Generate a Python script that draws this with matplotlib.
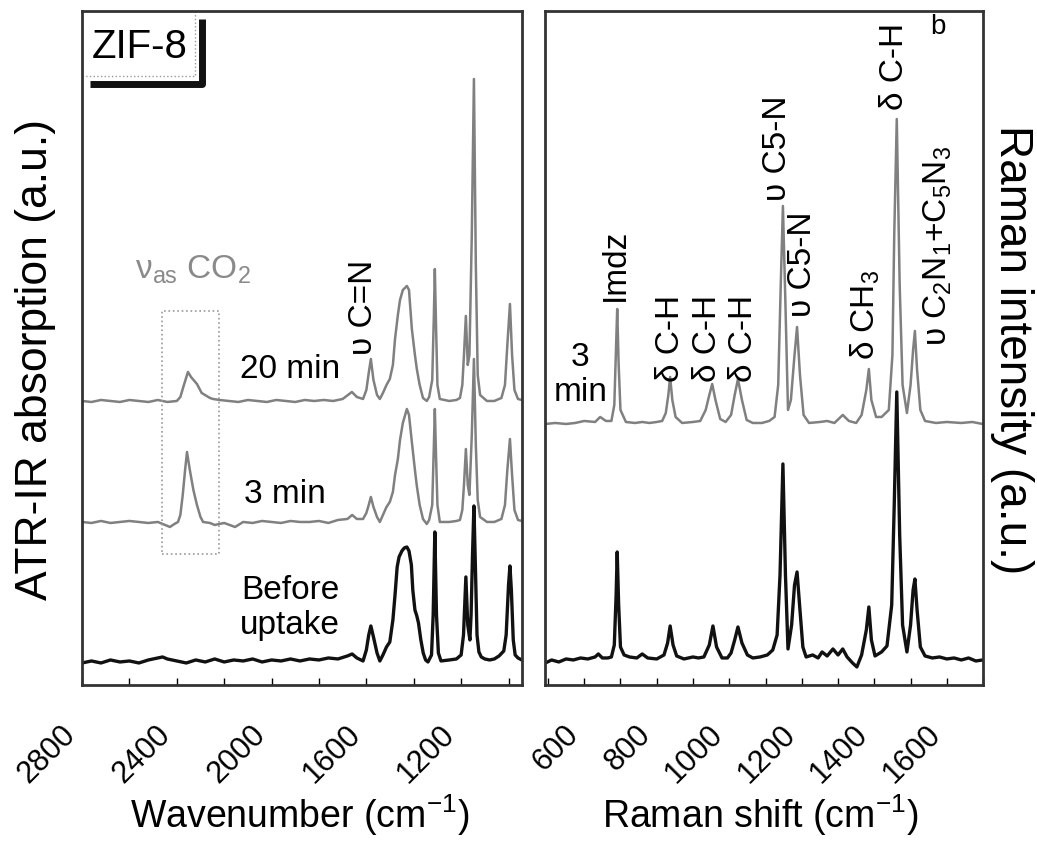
import matplotlib
matplotlib.use("Agg")
import matplotlib.pyplot as plt
from matplotlib.ticker import MultipleLocator, FixedLocator

plt.rcParams['font.family'] = ['Liberation Sans', 'DejaVu Sans']
plt.rcParams['mathtext.fontset'] = 'custom'
plt.rcParams['mathtext.rm'] = 'Liberation Sans'
plt.rcParams['mathtext.it'] = 'Liberation Sans:italic'

# ---- ATR-IR (left), wavenumber in cm-1, intensity in a.u. ----
ir_before_x = [2800, 2760, 2720, 2680, 2640, 2600, 2560, 2520, 2480, 2460, 2440, 2400, 2360, 2320,
               2280, 2240, 2200, 2160, 2120, 2080, 2040, 2000, 1960, 1920, 1880, 1840, 1800, 1760,
               1720, 1680, 1660, 1640, 1614, 1600, 1590, 1581, 1570, 1555, 1543, 1530, 1515, 1501,
               1488, 1479, 1470, 1462, 1450, 1440, 1429, 1420, 1410, 1404, 1395, 1387, 1380, 1370,
               1360, 1350, 1340, 1325, 1318, 1311, 1304, 1296, 1285, 1250, 1220, 1200, 1190, 1180,
               1172, 1163, 1158, 1152, 1146, 1140, 1133, 1125, 1115, 1100, 1080, 1060, 1040, 1020,
               1010, 1000, 994, 988, 980, 972, 960, 944]
ir_before_y = [22, 24, 22, 25, 23, 24, 22, 25, 27, 28, 26, 24, 22, 25,
               23, 26, 23, 25, 24, 26, 23, 25, 24, 26, 24, 26, 25, 27,
               26, 29, 31, 27, 24, 35, 50, 59, 48, 32, 24, 30, 38, 43,
               65, 90, 118, 128, 134, 137, 138, 134, 120, 95, 75, 69, 62, 45,
               32, 25, 23, 30, 70, 153, 70, 32, 24, 25, 26, 30, 50, 108,
               60, 45, 70, 130, 179, 120, 50, 33, 28, 26, 25, 26, 29, 34,
               50, 100, 119, 95, 45, 30, 27, 25]

ir_3min_x = [2800, 2760, 2720, 2680, 2640, 2600, 2560, 2520, 2480, 2429, 2410, 2395, 2385, 2375,
             2365, 2357, 2345, 2330, 2315, 2300, 2289, 2260, 2240, 2200, 2154, 2120, 2080, 2040,
             2000, 1960, 1920, 1880, 1840, 1800, 1760, 1720, 1680, 1660, 1640, 1614, 1600, 1590,
             1581, 1570, 1555, 1543, 1530, 1515, 1501, 1488, 1479, 1467, 1458, 1446, 1429, 1420,
             1408, 1395, 1387, 1375, 1361, 1345, 1335, 1322, 1315, 1311, 1306, 1300, 1290, 1250,
             1220, 1205, 1195, 1188, 1180, 1172, 1165, 1155, 1146, 1138, 1130, 1120, 1091, 1060,
             1030, 1015, 1005, 994, 985, 975, 960, 944]
ir_3min_y = [163, 162, 164, 162, 163, 164, 163, 162, 163, 158, 161, 163, 170, 190,
             215, 233, 215, 195, 180, 168, 163, 162, 160, 162, 158, 163, 162, 164,
             163, 162, 164, 163, 163, 164, 162, 165, 166, 170, 166, 166, 172, 180,
             188, 178, 168, 163, 170, 178, 183, 193, 210, 226, 245, 262, 276, 270,
             243, 215, 199, 180, 166, 161, 165, 180, 240, 276, 230, 180, 163, 163,
             164, 165, 175, 200, 236, 200, 190, 250, 326, 240, 185, 168, 163, 163,
             166, 180, 215, 246, 210, 175, 165, 164]

ir_20min_x = [2800, 2760, 2720, 2680, 2640, 2600, 2560, 2520, 2480, 2440, 2400, 2385, 2370, 2353,
              2340, 2315, 2295, 2281, 2260, 2247, 2220, 2180, 2140, 2100, 2060, 2020, 1980, 1940,
              1900, 1860, 1820, 1780, 1740, 1700, 1661, 1640, 1614, 1600, 1590, 1581, 1570, 1555,
              1543, 1530, 1515, 1501, 1488, 1479, 1467, 1458, 1446, 1429, 1420, 1408, 1395, 1387,
              1375, 1361, 1345, 1335, 1322, 1315, 1311, 1306, 1300, 1290, 1250, 1220, 1205, 1195,
              1188, 1180, 1172, 1165, 1155, 1146, 1138, 1130, 1120, 1091, 1060, 1030, 1015, 1005,
              994, 985, 975, 960, 944]
ir_20min_y = [284, 283, 285, 284, 283, 285, 284, 283, 285, 283, 284, 288, 300, 313,
              308, 301, 292, 290, 287, 286, 285, 284, 283, 285, 284, 283, 285, 284,
              283, 285, 284, 285, 284, 286, 293, 288, 286, 295, 312, 326, 305, 290,
              286, 292, 300, 306, 320, 346, 370, 385, 395, 399, 395, 356, 330, 316,
              300, 287, 284, 288, 305, 370, 416, 360, 300, 286, 284, 285, 287, 300,
              330, 369, 320, 330, 450, 606, 420, 310, 290, 284, 284, 287, 300, 340,
              381, 330, 295, 286, 285]

# ---- Raman (right), shift in cm-1, intensity in a.u. ----
ram_before_x = [493, 510, 530, 550, 570, 590, 610, 630, 639, 650, 665, 675, 683, 688, 691, 695,
                700, 710, 725, 745, 760, 775, 800, 820, 830, 837, 845, 855, 875, 900, 915, 930,
                945, 955, 965, 980, 995, 1005, 1015, 1024, 1035, 1050, 1065, 1085, 1105, 1120,
                1132, 1140, 1148, 1155, 1162, 1172, 1180, 1187, 1195, 1203, 1212, 1230, 1245,
                1256, 1270, 1286, 1300, 1313, 1325, 1340, 1352, 1365, 1378, 1385, 1392, 1402,
                1420, 1435, 1448, 1455, 1462, 1470, 1478, 1490, 1500, 1507, 1512, 1518, 1527,
                1540, 1560, 1580, 1600, 1620, 1640, 1660, 1680, 1699]
ram_before_y = [22, 25, 23, 26, 25, 27, 26, 28, 31, 27, 27, 28, 40, 90, 133, 80,
                38, 30, 28, 27, 31, 27, 26, 30, 42, 59, 40, 29, 26, 28, 27, 28,
                40, 59, 38, 27, 27, 32, 45, 58, 42, 30, 27, 28, 30, 35,
                50, 110, 221, 110, 36, 60, 100, 113, 75, 38, 28, 30, 27,
                33, 29, 36, 30, 36, 28, 22, 18, 30, 55, 78, 45, 29,
                33, 39, 80, 180, 293, 150, 60, 33, 60, 95, 106, 75, 38,
                29, 27, 28, 26, 27, 25, 27, 24, 25]

ram_3min_x = [493, 520, 550, 575, 600, 630, 644, 660, 675, 683, 688, 691, 695, 700, 715, 740,
              760, 780, 800, 815, 825, 832, 837, 843, 852, 870, 900, 920, 935, 945, 953, 962,
              975, 990, 1005, 1015, 1024, 1035, 1048, 1065, 1090, 1110, 1125, 1135, 1142, 1148,
              1155, 1162, 1170, 1180, 1187, 1195, 1205, 1220, 1250, 1270, 1290, 1313, 1330,
              1350, 1365, 1378, 1385, 1392, 1405, 1420, 1440, 1450, 1455, 1462, 1470, 1478,
              1490, 1500, 1507, 1512, 1518, 1527, 1540, 1570, 1600, 1640, 1670, 1699]
ram_3min_y = [261, 262, 261, 262, 264, 263, 268, 264, 264, 280, 340, 376, 320, 275, 263, 262,
              263, 262, 263, 264, 272, 290, 308, 285, 268, 262, 263, 264, 275, 290, 301, 285,
              266, 263, 270, 290, 306, 285, 265, 262, 262, 264, 268, 300, 400, 479,
              380, 275, 285, 330, 358, 310, 270, 262, 263, 264, 262, 270, 264,
              262, 270, 295, 316, 285, 268, 268, 275, 330, 450, 566, 400, 300,
              272, 300, 335, 354, 315, 275, 264, 262, 263, 262, 263, 261]

ir_ticks = [2800, 2400, 2000, 1600, 1200]
raman_ticks = [600, 800, 1000, 1200, 1400, 1600]

gray = '#808080'
black = '#111111'
fs = 24

fig = plt.figure(figsize=(10.37, 8.45), dpi=100)
ax1 = fig.add_axes([0.0791, 0.1882, 0.4243, 0.7976])
ax2 = fig.add_axes([0.5256, 0.1882, 0.4224, 0.7976])

ax1.plot(ir_20min_x, ir_20min_y, color=gray, lw=1.8)
ax1.plot(ir_3min_x, ir_3min_y, color=gray, lw=1.8)
ax1.plot(ir_before_x, ir_before_y, color=black, lw=2.4)
ax1.set_xlim(2800, 943)
ax1.set_ylim(0, 674)

# dotted box around the CO2 band
ax1.plot([2462, 2222, 2222, 2462, 2462], [131, 131, 374, 374, 131], ls=':', color='#999999', lw=1.2)
ax1.text(2332, 416, r'ν$_{\mathrm{as}}$ CO$_2$', color='#8a8a8a', fontsize=fs, ha='center', va='center')
ax1.text(1614, 379, 'υ C=N', rotation=90, fontsize=fs, ha='center', va='center')
ax1.text(1922, 316, '20 min', fontsize=fs, ha='center', va='center')
ax1.text(1944, 191, '3 min', fontsize=fs, ha='center', va='center')
ax1.text(1922, 78, 'Before\nuptake', fontsize=fs, ha='center', va='center', linespacing=1.15)

# ZIF-8 label with a drop shadow
ax1.text(0.132, 0.948, 'ZIF-8', transform=ax1.transAxes, fontsize=29, ha='center', va='center')
ax1.plot([0, 0.257, 0.257], [0.9036, 0.9036, 1.0], transform=ax1.transAxes,
         color='#999999', lw=1, ls=':')
ax1.plot([0.018, 0.273, 0.273], [0.8917, 0.8917, 0.988], transform=ax1.transAxes,
         color=black, lw=5, solid_capstyle='butt')

ax2.plot(ram_3min_x, ram_3min_y, color=gray, lw=1.8)
ax2.plot(ram_before_x, ram_before_y, color=black, lw=2.4)
ax2.set_xlim(492, 1700)
ax2.set_ylim(0, 674)

ax2.text(589, 311, '3\nmin', fontsize=fs, ha='center', va='center', linespacing=1.2)
ax2.text(685, 421, 'Imdz', rotation=90, fontsize=fs, ha='center', va='center')
for xc in [837, 939, 1038]:
    ax2.text(xc, 348, 'δ C-H', rotation=90, fontsize=fs, ha='center', va='center')
ax2.text(1132, 538, 'υ C5-N', rotation=90, fontsize=fs, ha='center', va='center')
ax2.text(1203, 422, 'υ C5-N', rotation=90, fontsize=fs, ha='center', va='center')
ax2.text(1374, 371, r'δ CH$_3$', rotation=90, fontsize=fs, ha='center', va='center')
ax2.text(1457, 620, 'δ C-H', rotation=90, fontsize=fs, ha='center', va='center')
ax2.text(1575, 440, r'υ C$_2$N$_1$+C$_5$N$_3$', rotation=90, fontsize=fs, ha='center', va='center')
ax2.text(1575, 659, 'b', fontsize=20, ha='center', va='center')

for ax, ticks, minor in [(ax1, ir_ticks, 200), (ax2, raman_ticks, 100)]:
    ax.xaxis.set_major_locator(FixedLocator(ticks))
    ax.xaxis.set_minor_locator(MultipleLocator(minor))
    ax.set_yticks([])
    ax.tick_params(axis='x', which='both', direction='in', length=5, width=1,
                   top=False, labelsize=22, pad=24)
    for lab in ax.get_xticklabels():
        lab.set_rotation(45)
        lab.set_ha('right')
    for s in ax.spines.values():
        s.set_linewidth(2)
        s.set_color('#333333')

fig.text(0.289, 0.0355, 'Wavenumber (cm$^{-1}$)', fontsize=27, ha='center', va='center')
fig.text(0.733, 0.0355, 'Raman shift (cm$^{-1}$)', fontsize=27, ha='center', va='center')
fig.text(0.034, 0.574, 'ATR-IR absorption (a.u.)', fontsize=32, rotation=90, ha='center', va='center')
fig.text(0.976, 0.586, 'Raman intensity (a.u.)', fontsize=33, rotation=270, ha='center', va='center')

fig.savefig('out.png', dpi=100)
